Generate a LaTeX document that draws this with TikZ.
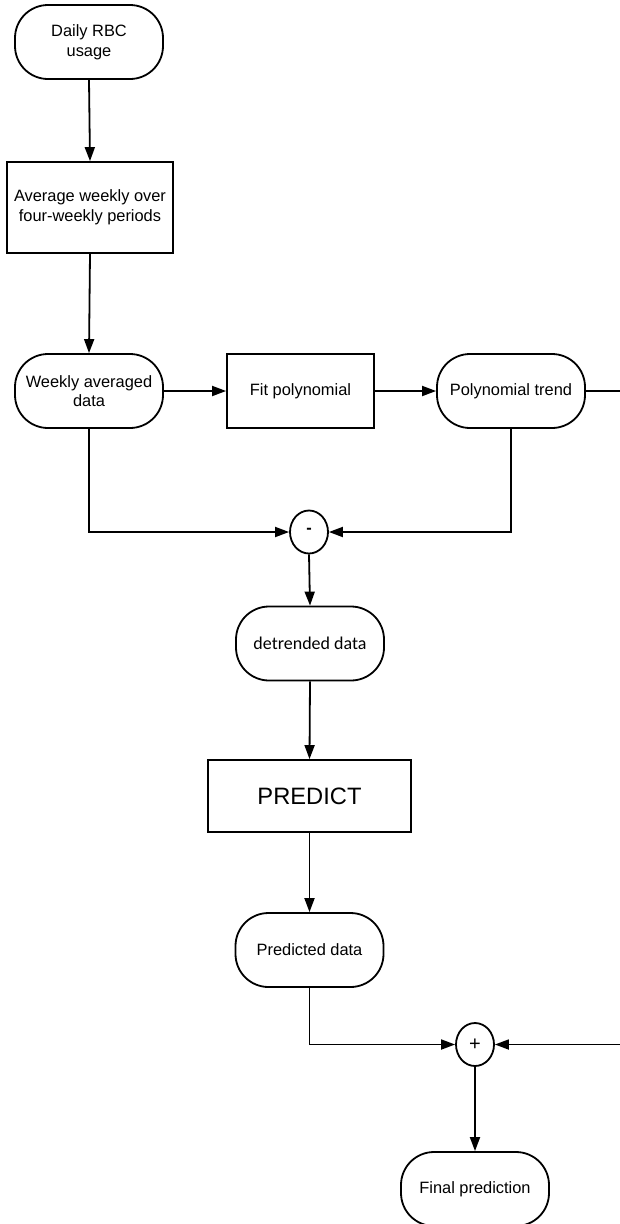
\documentclass[tikz,border=0pt]{standalone}
\usepackage{fontspec}
\setmainfont{Liberation Sans}
\newfontfamily\calfont{Carlito}
\usetikzlibrary{shapes.geometric,arrows.meta}
\begin{document}
\begin{tikzpicture}[x=1pt,y=-1pt,
  line width=1.8pt,
  every node/.style={font=\fontsize{16.4}{19.7}\selectfont, align=center, inner sep=0pt},
  term/.style={draw, rectangle, rounded corners=33pt, minimum width=148pt, minimum height=74pt},
  proc/.style={draw, rectangle, sharp corners, minimum width=147pt, minimum height=74pt},
  sumnode/.style={draw, ellipse, minimum width=38pt, minimum height=43pt},
  arr/.style={-{Triangle[length=14pt,width=10pt]}}
]
\path[use as bounding box] (0,0) rectangle (620,1224);

\node[term] (daily) at (89,42) {Daily RBC\\usage};
\node[proc, minimum width=166pt, minimum height=91pt] (avg) at (90,207.5) {Average weekly over\\four-weekly periods};
\node[term] (weekly) at (89,391) {Weekly averaged\\data};
\node[proc] (fit) at (300.5,391) {Fit polynomial};
\node[term] (trend) at (511,391) {Polynomial trend};
\node[sumnode] (minus) at (309,532) {\raisebox{2pt}{\textbf{-}}};
\node[term, font=\calfont\fontsize{18}{21}\selectfont] (detr) at (310,643.5) {detrended data};
\node[proc, minimum width=203pt, minimum height=72pt, font=\fontsize{23.7}{28}\selectfont] (pred) at (309.5,796) {PREDICT};
\node[term] (predd) at (309.5,950) {Predicted data};
\node[sumnode, font=\fontsize{20}{24}\selectfont] (plus) at (475,1044.5) {+};
\node[term] (final) at (475,1189) {Final prediction};

\coordinate (edgeA) at (620,391);
\coordinate (edgeB) at (620,1044.5);

\draw[arr] (daily.south) -- (avg.north);
\draw[arr] (avg.south) -- (weekly.north);
\draw[arr] (weekly.east) -- (fit.west);
\draw[arr] (fit.east) -- (trend.west);
\draw (trend.east) -- (edgeA);
\draw[arr] (weekly.south) |- (minus.west);
\draw[arr] (trend.south) |- (minus.east);
\draw[arr] (minus.south) -- (detr.north);
\draw[arr] (detr.south) -- (pred.north);
\draw[arr] (pred.south) -- (predd.north);
\draw[arr] (predd.south) |- (plus.west);
\draw[arr] (edgeB) -- (plus.east);
\draw[arr] (plus.south) -- (final.north);
\end{tikzpicture}
\end{document}
